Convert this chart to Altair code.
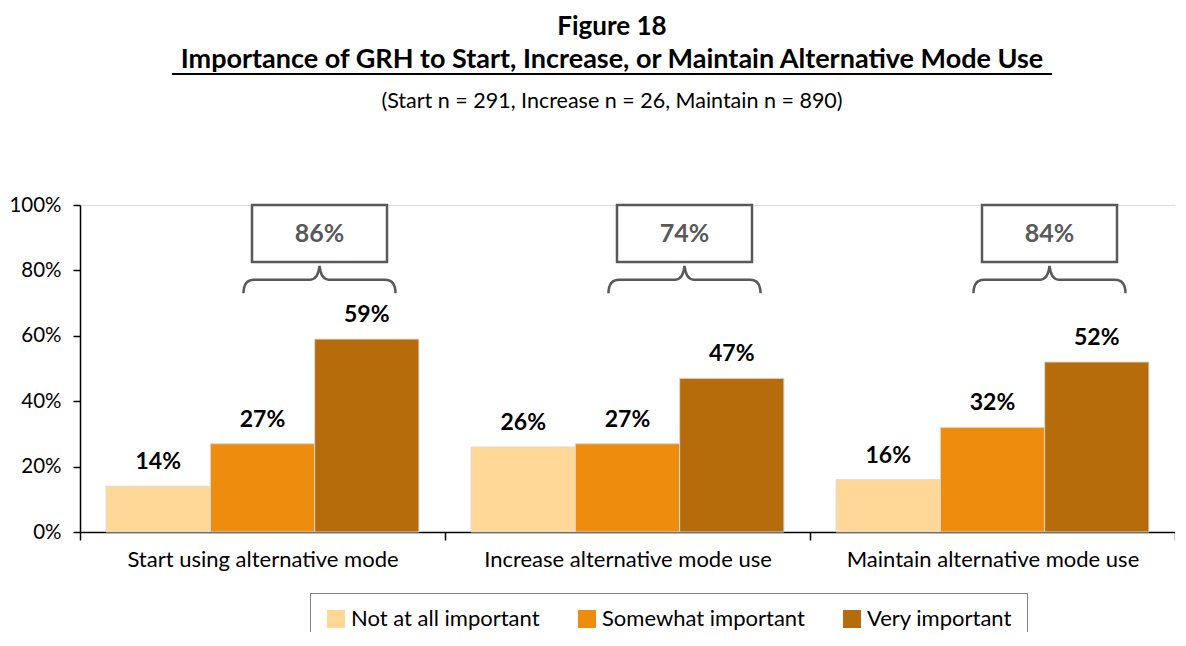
import altair as alt
import pandas as pd

FONT = "Lato"

categories = ["Start using alternative mode", "Increase alternative mode use", "Maintain alternative mode use"]
levels = ["Not at all important", "Somewhat important", "Very important"]
not_at_all = [14, 26, 16]
somewhat = [27, 27, 32]
very = [59, 47, 52]
totals = [86, 74, 84]
colors = ["#FFD898", "#EE8C0E", "#B66C0A"]
y_ticks = [0, 20, 40, 60, 80, 100]

fig_label = "Figure 18"
main_title = "Importance of GRH to Start, Increase, or Maintain Alternative Mode Use"
subtitle = "(Start n = 291, Increase n = 26, Maintain n = 890)"

rows = []
for i, c in enumerate(categories):
    for lv, vals in zip(levels, [not_at_all, somewhat, very]):
        rows.append({"category": c, "level": lv, "value": vals[i], "label": f"{vals[i]}%"})
df = pd.DataFrame(rows)
box_df = pd.DataFrame({"category": categories, "total": totals,
                       "label": [f"{t}%" for t in totals]})

x_enc = alt.X("category:N", sort=categories,
              scale=alt.Scale(paddingInner=0, paddingOuter=0),
              axis=alt.Axis(title=None, labelAngle=0, labelFontSize=22, labelFont=FONT,
                            labelColor="#000000", labelPadding=9, labelLimit=500,
                            tickBand="extent", tickSize=8, tickColor="#000000", tickWidth=1.5,
                            domainColor="#000000", domainWidth=1.5))
y_enc = alt.Y("value:Q", scale=alt.Scale(domain=[0, 100], nice=False),
              axis=alt.Axis(values=y_ticks, title=None, grid=False,
                            labelExpr="datum.value + '%'", labelFontSize=20.5, labelFont=FONT,
                            labelColor="#000000", tickSize=7, labelPadding=12,
                            tickColor="#000000", tickWidth=1.5,
                            domainColor="#000000", domainWidth=1.5))
xoff = alt.XOffset("level:N", sort=levels, scale=alt.Scale(paddingOuter=0.25, paddingInner=0))
color = alt.Color("level:N", sort=levels, scale=alt.Scale(domain=levels, range=colors),
                  legend=alt.Legend(title=None, orient="none", direction="horizontal",
                                    legendX=230, legendY=388, strokeColor="#7f7f7f",
                                    fillColor="white", padding=15, symbolType="square",
                                    symbolSize=324, symbolStrokeWidth=0, labelFontSize=22,
                                    labelFont=FONT, labelColor="#000000", columnPadding=36,
                                    labelOffset=4, symbolOpacity=1, labelLimit=400))

base = alt.Chart(df)
bars = base.mark_bar(stroke="#d9d9d9", strokeWidth=1).encode(
    x=x_enc, y=y_enc, xOffset=xoff, color=color)
bar_labels = base.mark_text(fontSize=23, fontWeight="bold", font=FONT, baseline="alphabetic",
                            dy=-17, color="#000000").encode(
    x=alt.X("category:N", sort=categories), y="value:Q", xOffset=xoff, text="label:N")

BOX_DX = 57
bbase = alt.Chart(box_df)
boxes = bbase.mark_bar(fill="white", stroke="#595959", strokeWidth=2.5, width=135,
                       xOffset=BOX_DX).encode(
    x=alt.X("category:N", sort=categories), y=alt.datum(100), y2=alt.datum(82.6))
box_text = bbase.mark_text(fontSize=25, fontWeight="bold", font=FONT, color="#595959",
                           baseline="middle", xOffset=BOX_DX).encode(
    x=alt.X("category:N", sort=categories), y=alt.datum(91.1), text="label:N")
BRACE = ("M -1 0.19 Q -1 0.01 -0.86 0.01 L -0.12 0.01 Q -0.02 0.01 0 -0.17 "
         "Q 0.02 0.01 0.12 0.01 L 0.86 0.01 Q 1 0.01 1 0.19")
braces = bbase.mark_point(shape=BRACE, size=23104, filled=False, stroke="#595959",
                          strokeWidth=2.5, opacity=1, xOffset=BOX_DX).encode(
    x=alt.X("category:N", sort=categories), y=alt.datum(77.4))

t1 = alt.Chart(pd.DataFrame({"t": [fig_label]})).mark_text(
    fontSize=26, fontWeight="bold", font=FONT, color="#000000", baseline="middle").encode(
    x=alt.value(532), y=alt.value(-178), text="t:N")
t2 = alt.Chart(pd.DataFrame({"t": [main_title]})).mark_text(
    fontSize=27, fontWeight="bold", font=FONT, color="#000000", baseline="middle").encode(
    x=alt.value(532), y=alt.value(-145), text="t:N")
underline = alt.Chart(pd.DataFrame({"t": [main_title]})).mark_rule(
    color="#000000", strokeWidth=2).encode(
    x=alt.value(92), x2=alt.value(972), y=alt.value(-131))
t3 = alt.Chart(pd.DataFrame({"t": [subtitle]})).mark_text(
    fontSize=21.5, font=FONT, color="#000000", baseline="middle").encode(
    x=alt.value(532), y=alt.value(-103), text="t:N")

chart = alt.layer(bars, bar_labels, boxes, box_text, braces, t1, t2, underline, t3).properties(
    width=1095, height=327,
    padding={"left": 72, "top": 197, "right": 0, "bottom": 100},
    autosize=alt.AutoSizeParams(type="none"),
).configure_view(stroke=None).configure(background="white")

chart.save("out.html", embed_options={"renderer": "svg", "actions": False})
